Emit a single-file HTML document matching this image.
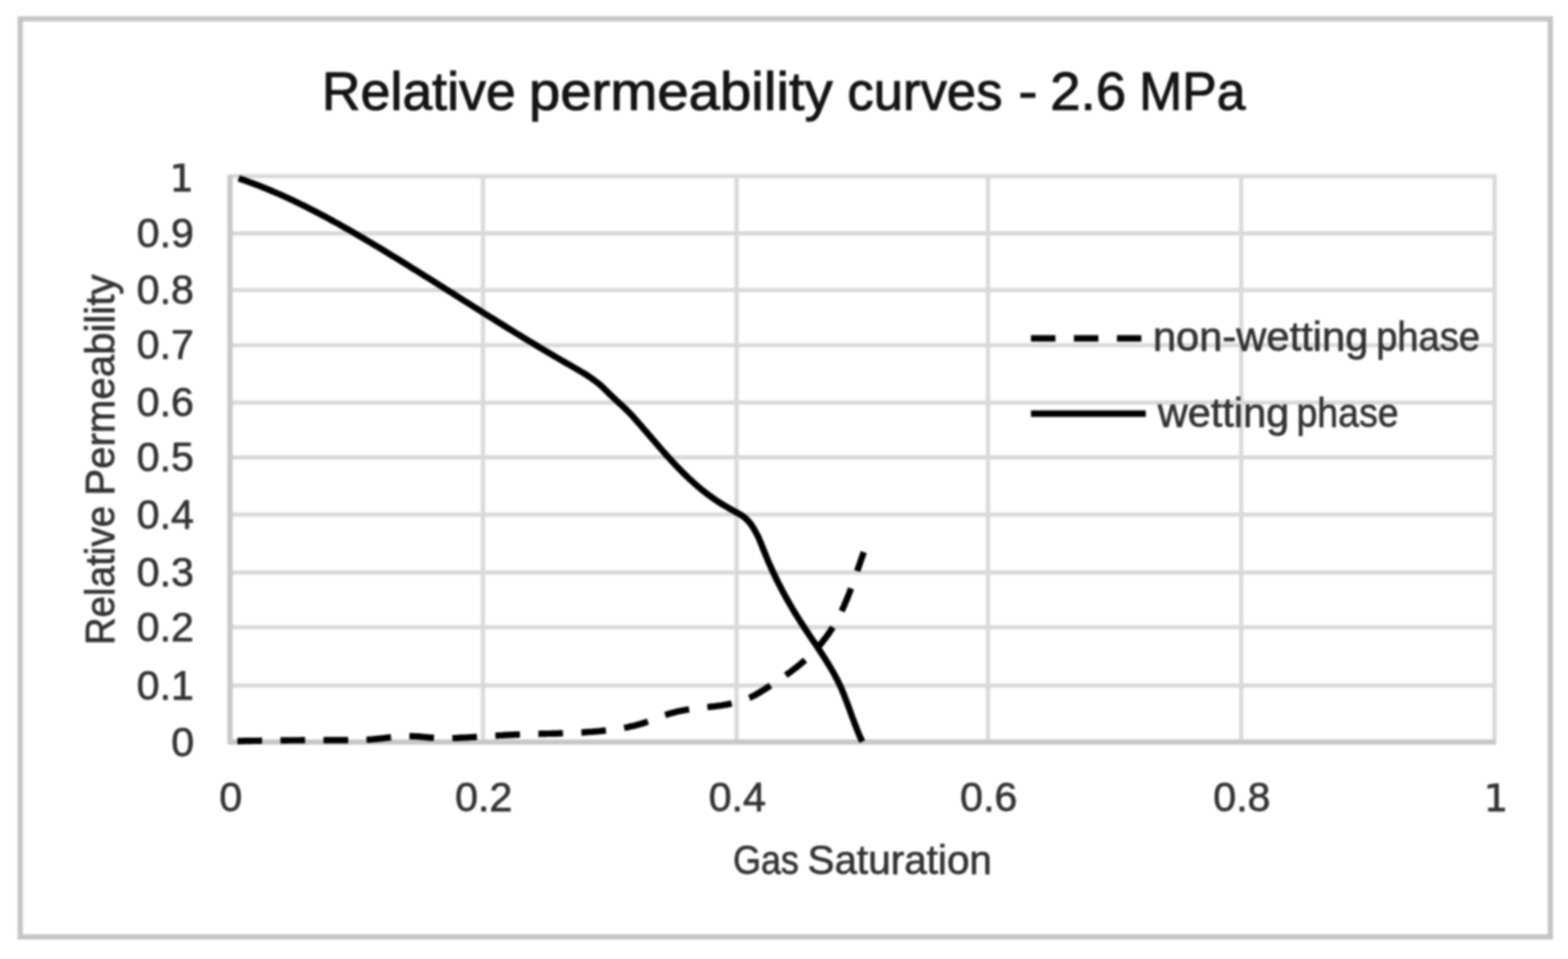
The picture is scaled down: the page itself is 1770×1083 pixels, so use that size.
<!DOCTYPE html>
<html><head><meta charset="utf-8"><title>Relative permeability curves - 2.6 MPa</title>
<style>html,body{margin:0;padding:0;background:#fff;width:1770px;height:1083px;overflow:hidden}svg{display:block}#w{filter:blur(1px)}</style>
</head><body>
<div id="w"><svg width="1770" height="1083" viewBox="0 0 1770 1083"><rect x="0" y="0" width="1770" height="1083" fill="#ffffff"/>
<rect x="22.8" y="21.3" width="1727.3" height="1036.7" fill="none" stroke="#c6c6c6" stroke-width="6"/>
<line x1="259.6" y1="774.2" x2="1688.6" y2="774.2" stroke="#dadada" stroke-width="4.8"/>
<line x1="259.6" y1="708.3" x2="1688.6" y2="708.3" stroke="#dadada" stroke-width="4.8"/>
<line x1="259.6" y1="646.5" x2="1688.6" y2="646.5" stroke="#dadada" stroke-width="4.8"/>
<line x1="259.6" y1="581.2" x2="1688.6" y2="581.2" stroke="#dadada" stroke-width="4.8"/>
<line x1="259.6" y1="516.5" x2="1688.6" y2="516.5" stroke="#dadada" stroke-width="4.8"/>
<line x1="259.6" y1="454.6" x2="1688.6" y2="454.6" stroke="#dadada" stroke-width="4.8"/>
<line x1="259.6" y1="389.9" x2="1688.6" y2="389.9" stroke="#dadada" stroke-width="4.8"/>
<line x1="259.6" y1="327.7" x2="1688.6" y2="327.7" stroke="#dadada" stroke-width="4.8"/>
<line x1="259.6" y1="263.5" x2="1688.6" y2="263.5" stroke="#dadada" stroke-width="4.8"/>
<line x1="259.6" y1="198.9" x2="1688.6" y2="198.9" stroke="#dadada" stroke-width="4.8"/>
<line x1="545.2" y1="197.4" x2="545.2" y2="838.0" stroke="#dadada" stroke-width="4.8"/>
<line x1="831.5" y1="197.4" x2="831.5" y2="838.0" stroke="#dadada" stroke-width="4.8"/>
<line x1="1115.3" y1="197.4" x2="1115.3" y2="838.0" stroke="#dadada" stroke-width="4.8"/>
<line x1="1401.1" y1="197.4" x2="1401.1" y2="838.0" stroke="#dadada" stroke-width="4.8"/>
<line x1="1687.1" y1="197.4" x2="1687.1" y2="838.0" stroke="#dadada" stroke-width="4.8"/>
<line x1="259.6" y1="197.4" x2="259.6" y2="840.0" stroke="#c8c8c8" stroke-width="6.0"/>
<line x1="257.6" y1="838.0" x2="1688.6" y2="838.0" stroke="#c8c8c8" stroke-width="6.0"/>
<path d="M269.4 201.4 L272.5 202.5 L275.6 203.5 L278.7 204.6 L281.8 205.8 L284.9 206.9 L288.0 208.1 L291.0 209.2 L294.1 210.4 L297.1 211.7 L300.2 212.9 L303.2 214.1 L306.2 215.4 L309.2 216.7 L312.3 218.0 L315.3 219.3 L318.3 220.6 L321.2 222.0 L324.2 223.3 L327.2 224.7 L330.2 226.1 L333.1 227.5 L336.1 228.9 L339.0 230.4 L342.0 231.8 L344.9 233.3 L347.8 234.7 L350.8 236.2 L353.7 237.7 L356.6 239.2 L359.5 240.7 L362.4 242.3 L365.3 243.8 L368.2 245.3 L371.1 246.9 L374.0 248.5 L376.8 250.1 L379.7 251.6 L382.6 253.2 L385.4 254.8 L388.3 256.5 L391.2 258.1 L394.0 259.7 L396.9 261.3 L399.7 263.0 L402.5 264.6 L405.4 266.3 L408.2 268.0 L411.0 269.6 L413.9 271.3 L416.7 273.0 L419.5 274.7 L422.3 276.3 L425.1 278.0 L428.0 279.7 L430.8 281.4 L433.6 283.1 L436.4 284.8 L439.2 286.6 L442.0 288.3 L444.8 290.0 L447.6 291.7 L450.4 293.4 L453.2 295.1 L456.0 296.9 L458.8 298.6 L461.5 300.3 L464.3 302.1 L467.1 303.8 L469.9 305.5 L472.7 307.3 L475.5 309.0 L478.2 310.8 L481.0 312.5 L483.8 314.2 L486.6 316.0 L489.4 317.7 L492.1 319.5 L494.9 321.2 L497.7 323.0 L500.5 324.7 L503.2 326.5 L506.0 328.2 L508.8 330.0 L511.6 331.7 L514.3 333.5 L517.1 335.2 L519.9 337.0 L522.6 338.7 L525.4 340.5 L528.2 342.2 L531.0 344.0 L533.7 345.7 L536.5 347.5 L539.3 349.2 L542.1 351.0 L544.8 352.7 L547.6 354.5 L550.4 356.2 L553.2 358.0 L556.0 359.7 L558.7 361.4 L561.5 363.2 L564.3 364.9 L567.1 366.6 L569.9 368.4 L572.7 370.1 L575.5 371.8 L578.3 373.5 L581.0 375.3 L583.8 377.0 L586.6 378.7 L589.4 380.4 L592.2 382.1 L595.0 383.8 L597.8 385.5 L600.7 387.2 L603.5 388.9 L606.3 390.6 L609.1 392.3 L611.9 394.0 L614.7 395.7 L617.6 397.3 L620.4 399.0 L623.2 400.7 L626.0 402.3 L628.9 404.0 L631.7 405.7 L634.6 407.3 L637.4 408.9 L640.2 410.6 L643.1 412.2 L645.9 413.8 L648.8 415.5 L651.6 417.1 L654.5 418.8 L657.3 420.5 L660.1 422.2 L662.8 423.9 L665.6 425.7 L668.3 427.6 L670.9 429.5 L673.5 431.5 L676.1 433.5 L678.5 435.7 L681.0 437.9 L683.3 440.2 L685.7 442.5 L688.0 444.9 L690.4 447.2 L692.8 449.5 L695.2 451.7 L697.6 454.0 L700.0 456.2 L702.5 458.4 L704.9 460.6 L707.2 462.9 L709.5 465.2 L711.8 467.5 L714.0 469.9 L716.2 472.4 L718.3 474.8 L720.5 477.2 L722.6 479.7 L724.8 482.2 L726.9 484.7 L729.1 487.1 L731.2 489.6 L733.4 492.1 L735.5 494.6 L737.7 497.1 L739.8 499.6 L742.0 502.1 L744.1 504.6 L746.3 507.1 L748.4 509.5 L750.6 512.0 L752.8 514.5 L755.0 516.9 L757.2 519.4 L759.4 521.8 L761.7 524.2 L763.9 526.6 L766.2 528.9 L768.5 531.3 L770.8 533.6 L773.1 535.9 L775.5 538.2 L777.9 540.5 L780.3 542.7 L782.7 544.9 L785.1 547.1 L787.6 549.2 L790.1 551.3 L792.6 553.4 L795.2 555.4 L797.8 557.5 L800.4 559.4 L803.1 561.3 L805.8 563.2 L808.5 565.1 L811.2 566.9 L814.0 568.6 L816.8 570.3 L819.7 572.0 L822.5 573.7 L825.3 575.3 L828.2 576.9 L831.1 578.5 L833.9 580.1 L836.7 581.7 L839.3 583.5 L841.8 585.6 L844.1 587.8 L846.2 590.2 L848.2 592.8 L850.0 595.6 L851.7 598.4 L853.3 601.3 L854.8 604.2 L856.3 607.2 L857.6 610.3 L858.9 613.3 L860.1 616.3 L861.3 619.4 L862.5 622.4 L863.8 625.5 L865.0 628.5 L866.2 631.5 L867.5 634.6 L868.8 637.6 L870.2 640.6 L871.5 643.5 L872.9 646.5 L874.3 649.5 L875.7 652.4 L877.1 655.4 L878.6 658.3 L880.1 661.2 L881.6 664.1 L883.1 667.0 L884.7 669.9 L886.2 672.8 L887.8 675.6 L889.4 678.5 L891.0 681.3 L892.7 684.2 L894.3 687.0 L896.0 689.8 L897.7 692.6 L899.4 695.4 L901.2 698.2 L902.9 701.0 L904.7 703.8 L906.5 706.5 L908.3 709.3 L910.1 712.0 L911.9 714.7 L913.7 717.5 L915.6 720.2 L917.4 722.9 L919.2 725.6 L921.1 728.3 L922.9 731.1 L924.7 733.8 L926.5 736.5 L928.3 739.3 L930.1 742.0 L931.9 744.8 L933.6 747.6 L935.3 750.4 L937.0 753.2 L938.7 756.0 L940.3 758.8 L941.9 761.7 L943.4 764.6 L945.0 767.5 L946.4 770.4 L947.8 773.3 L949.2 776.3 L950.5 779.3 L951.8 782.4 L953.0 785.4 L954.2 788.5 L955.4 791.6 L956.6 794.7 L957.7 797.8 L958.9 800.9 L960.0 804.0 L961.1 807.1 L962.2 810.2 L963.4 813.3 L964.5 816.4 L965.7 819.4 L966.9 822.5 L968.1 825.5 L969.3 828.6 L970.6 831.6 L972.0 834.5 L973.3 837.5" fill="none" stroke="#000" stroke-width="7.2" stroke-linejoin="round"/>
<path d="M268.0 836.9 L270.7 836.8 L273.4 836.8 L276.0 836.7 L278.7 836.7 L281.4 836.6 L284.1 836.6 L286.7 836.5 L289.4 836.5 L292.1 836.5 L294.8 836.4 L297.4 836.4 L300.1 836.3 L302.8 836.3 L305.5 836.3 L308.2 836.2 L310.8 836.2 L313.5 836.2 L316.2 836.1 L318.9 836.1 L321.5 836.1 L324.2 836.1 L326.9 836.0 L329.6 836.0 L332.3 836.0 L334.9 836.0 L337.6 836.0 L340.3 835.9 L343.0 835.9 L345.6 835.9 L348.3 835.9 L351.0 835.9 L353.7 835.9 L356.4 835.9 L359.0 835.9 L361.7 835.8 L364.4 835.8 L367.1 835.8 L369.7 835.8 L372.4 835.8 L375.1 835.8 L377.8 835.8 L380.4 835.8 L383.1 835.8 L385.8 835.8 L388.5 835.9 L391.2 835.9 L393.8 835.9 L396.5 835.9 L399.2 835.9 L401.9 835.9 L404.5 835.8 L407.2 835.8 L409.9 835.7 L412.6 835.6 L415.2 835.4 L417.9 835.2 L420.6 835.0 L423.3 834.7 L425.9 834.4 L428.6 834.1 L431.3 833.8 L433.9 833.5 L436.6 833.2 L439.2 832.8 L441.9 832.5 L444.6 832.3 L447.2 832.0 L449.9 831.8 L452.5 831.6 L455.2 831.4 L457.8 831.3 L460.5 831.3 L463.1 831.3 L465.8 831.4 L468.4 831.5 L471.1 831.7 L473.7 831.9 L476.4 832.1 L479.0 832.4 L481.7 832.6 L484.3 832.8 L487.0 833.1 L489.6 833.2 L492.3 833.4 L495.0 833.5 L497.6 833.6 L500.3 833.6 L503.0 833.6 L505.7 833.6 L508.3 833.6 L511.0 833.5 L513.7 833.5 L516.4 833.4 L519.0 833.2 L521.7 833.1 L524.4 833.0 L527.1 832.8 L529.8 832.7 L532.4 832.5 L535.1 832.3 L537.8 832.2 L540.5 832.0 L543.1 831.8 L545.8 831.6 L548.5 831.5 L551.1 831.3 L553.8 831.1 L556.5 831.0 L559.2 830.8 L561.8 830.7 L564.5 830.5 L567.2 830.4 L569.8 830.2 L572.5 830.1 L575.2 829.9 L577.8 829.8 L580.5 829.7 L583.2 829.6 L585.9 829.5 L588.5 829.4 L591.2 829.3 L593.9 829.2 L596.6 829.1 L599.2 829.0 L601.9 828.9 L604.6 828.9 L607.3 828.8 L610.0 828.7 L612.6 828.7 L615.3 828.6 L618.0 828.5 L620.7 828.5 L623.4 828.4 L626.1 828.3 L628.7 828.3 L631.4 828.2 L634.1 828.1 L636.8 828.0 L639.5 827.9 L642.1 827.8 L644.8 827.7 L647.5 827.6 L650.2 827.5 L652.9 827.3 L655.5 827.2 L658.2 827.1 L660.9 826.9 L663.5 826.7 L666.2 826.5 L668.9 826.3 L671.5 826.1 L674.2 825.9 L676.9 825.7 L679.5 825.4 L682.2 825.1 L684.8 824.8 L687.5 824.5 L690.1 824.2 L692.8 823.9 L695.4 823.5 L698.1 823.1 L700.7 822.7 L703.3 822.2 L705.9 821.7 L708.6 821.2 L711.2 820.6 L713.8 820.0 L716.3 819.4 L718.9 818.7 L721.5 818.0 L724.1 817.3 L726.6 816.5 L729.1 815.6 L731.7 814.7 L734.2 813.8 L736.7 812.8 L739.2 811.8 L741.7 810.9 L744.2 809.9 L746.8 808.9 L749.3 808.0 L751.8 807.2 L754.4 806.4 L756.9 805.6 L759.5 804.9 L762.1 804.2 L764.7 803.6 L767.3 803.0 L769.9 802.5 L772.5 802.0 L775.1 801.5 L777.8 801.1 L780.4 800.7 L783.1 800.3 L785.8 800.0 L788.4 799.7 L791.1 799.4 L793.8 799.1 L796.5 798.8 L799.1 798.5 L801.8 798.2 L804.5 797.9 L807.2 797.6 L809.9 797.2 L812.5 796.9 L815.2 796.5 L817.8 796.0 L820.5 795.6 L823.1 795.1 L825.7 794.5 L828.3 793.9 L830.9 793.3 L833.5 792.6 L836.0 791.8 L838.6 791.0 L841.1 790.1 L843.5 789.1 L846.0 788.1 L848.4 786.9 L850.7 785.8 L853.1 784.5 L855.4 783.2 L857.7 781.8 L860.0 780.4 L862.3 779.0 L864.5 777.6 L866.8 776.1 L869.1 774.7 L871.3 773.2 L873.5 771.7 L875.8 770.3 L878.0 768.8 L880.2 767.3 L882.4 765.8 L884.6 764.2 L886.8 762.7 L889.0 761.1 L891.2 759.6 L893.3 758.0 L895.4 756.3 L897.6 754.7 L899.7 753.1 L901.7 751.4 L903.8 749.7 L905.8 747.9 L907.8 746.2 L909.8 744.4 L911.8 742.6 L913.7 740.7 L915.7 738.8 L917.6 736.9 L919.4 735.0 L921.3 733.0 L923.1 731.0 L924.8 729.0 L926.6 727.0 L928.3 724.9 L929.9 722.8 L931.6 720.7 L933.2 718.6 L934.8 716.4 L936.3 714.2 L937.8 712.0 L939.2 709.8 L940.6 707.5 L942.0 705.2 L943.3 702.9 L944.6 700.6 L945.9 698.3 L947.1 695.9 L948.3 693.5 L949.5 691.1 L950.7 688.7 L951.8 686.3 L952.9 683.9 L953.9 681.4 L955.0 678.9 L956.0 676.5 L957.0 674.0 L958.0 671.5 L959.0 669.0 L959.9 666.5 L960.9 663.9 L961.8 661.4 L962.7 658.9 L963.6 656.4 L964.5 653.8 L965.4 651.3 L966.3 648.8 L967.2 646.2 L968.0 643.7 L968.9 641.2 L969.8 638.6 L970.7 636.1 L971.5 633.6 L972.4 631.1 L973.3 628.5 L974.2 626.0 L975.1 623.6" fill="none" stroke="#000" stroke-width="7.2" stroke-dasharray="27.8 20.8" stroke-linejoin="round"/>
<line x1="1163.8" y1="382.2" x2="1289.5" y2="382.2" stroke="#000" stroke-width="7.2" stroke-dasharray="27.6 20.9"/>
<line x1="1163.8" y1="467.2" x2="1293.4" y2="467.2" stroke="#000" stroke-width="7.2"/>
<text y="123.5" font-family="'Liberation Sans', sans-serif" font-size="62" fill="#141414" stroke="#141414" stroke-width="1.1"><tspan x="363.2" textLength="219.0" lengthAdjust="spacingAndGlyphs">Relative</tspan> <tspan x="597.0" textLength="343.0" lengthAdjust="spacingAndGlyphs">permeability</tspan> <tspan x="956.6" textLength="175.0" lengthAdjust="spacingAndGlyphs">curves</tspan> <tspan x="1149.4" textLength="21.6" lengthAdjust="spacingAndGlyphs">-</tspan> <tspan x="1185.6" textLength="85.6" lengthAdjust="spacingAndGlyphs">2.6</tspan> <tspan x="1286.0" textLength="120.0" lengthAdjust="spacingAndGlyphs">MPa</tspan></text>
<text y="395.6" font-family="'Liberation Sans', sans-serif" font-size="46.0" fill="#333333" stroke="#333333" stroke-width="0.75"><tspan x="1301.4" textLength="243.2" lengthAdjust="spacingAndGlyphs">non-wetting</tspan> <tspan x="1553.4" textLength="117.4" lengthAdjust="spacingAndGlyphs">phase</tspan></text>
<text y="482.4" font-family="'Liberation Sans', sans-serif" font-size="46.0" fill="#333333" stroke="#333333" stroke-width="0.75"><tspan x="1307.0" textLength="148.2" lengthAdjust="spacingAndGlyphs">wetting</tspan> <tspan x="1463.6" textLength="115.2" lengthAdjust="spacingAndGlyphs">phase</tspan></text>
<text y="986.6" font-family="'Liberation Sans', sans-serif" font-size="46.0" fill="#333333" stroke="#333333" stroke-width="0.75"><tspan x="827.4" textLength="74.4" lengthAdjust="spacingAndGlyphs">Gas</tspan> <tspan x="911.4" textLength="208.4" lengthAdjust="spacingAndGlyphs">Saturation</tspan></text>
<text transform="translate(129.3 724.3) rotate(-90)" y="0.0" font-family="'Liberation Sans', sans-serif" font-size="46.5" fill="#333333" stroke="#333333" stroke-width="0.75"><tspan x="-4.3" textLength="157.4" lengthAdjust="spacingAndGlyphs">Relative</tspan> <tspan x="164.5" textLength="249.8" lengthAdjust="spacingAndGlyphs">Permeability</tspan></text>
<text x="219" y="853.6" font-family="'Liberation Sans', sans-serif" font-size="46.5" fill="#333333" stroke="#333333" stroke-width="0.75" text-anchor="end">0</text>
<text x="219" y="789.7" font-family="'Liberation Sans', sans-serif" font-size="46.5" fill="#333333" stroke="#333333" stroke-width="0.75" text-anchor="end">0.1</text>
<text x="219" y="723.8" font-family="'Liberation Sans', sans-serif" font-size="46.5" fill="#333333" stroke="#333333" stroke-width="0.75" text-anchor="end">0.2</text>
<text x="219" y="662.0" font-family="'Liberation Sans', sans-serif" font-size="46.5" fill="#333333" stroke="#333333" stroke-width="0.75" text-anchor="end">0.3</text>
<text x="219" y="596.7" font-family="'Liberation Sans', sans-serif" font-size="46.5" fill="#333333" stroke="#333333" stroke-width="0.75" text-anchor="end">0.4</text>
<text x="219" y="532.0" font-family="'Liberation Sans', sans-serif" font-size="46.5" fill="#333333" stroke="#333333" stroke-width="0.75" text-anchor="end">0.5</text>
<text x="219" y="470.1" font-family="'Liberation Sans', sans-serif" font-size="46.5" fill="#333333" stroke="#333333" stroke-width="0.75" text-anchor="end">0.6</text>
<text x="219" y="405.4" font-family="'Liberation Sans', sans-serif" font-size="46.5" fill="#333333" stroke="#333333" stroke-width="0.75" text-anchor="end">0.7</text>
<text x="219" y="343.2" font-family="'Liberation Sans', sans-serif" font-size="46.5" fill="#333333" stroke="#333333" stroke-width="0.75" text-anchor="end">0.8</text>
<text x="219" y="279.0" font-family="'Liberation Sans', sans-serif" font-size="46.5" fill="#333333" stroke="#333333" stroke-width="0.75" text-anchor="end">0.9</text>
<text x="219" y="216" font-family="'DejaVu Sans', 'Liberation Sans', sans-serif" font-size="43.5" fill="#333333" stroke="#333333" stroke-width="0.75" text-anchor="end">1</text>
<text x="260.4" y="916" font-family="'Liberation Sans', sans-serif" font-size="46.5" fill="#333333" stroke="#333333" stroke-width="0.75" text-anchor="middle">0</text>
<text x="546.0" y="916" font-family="'Liberation Sans', sans-serif" font-size="46.5" fill="#333333" stroke="#333333" stroke-width="0.75" text-anchor="middle">0.2</text>
<text x="832.3" y="916" font-family="'Liberation Sans', sans-serif" font-size="46.5" fill="#333333" stroke="#333333" stroke-width="0.75" text-anchor="middle">0.4</text>
<text x="1116.1" y="916" font-family="'Liberation Sans', sans-serif" font-size="46.5" fill="#333333" stroke="#333333" stroke-width="0.75" text-anchor="middle">0.6</text>
<text x="1401.9" y="916" font-family="'Liberation Sans', sans-serif" font-size="46.5" fill="#333333" stroke="#333333" stroke-width="0.75" text-anchor="middle">0.8</text>
<text x="1688.6" y="916" font-family="'DejaVu Sans', 'Liberation Sans', sans-serif" font-size="43.5" fill="#333333" stroke="#333333" stroke-width="0.75" text-anchor="middle">1</text></svg></div>
</body></html>
